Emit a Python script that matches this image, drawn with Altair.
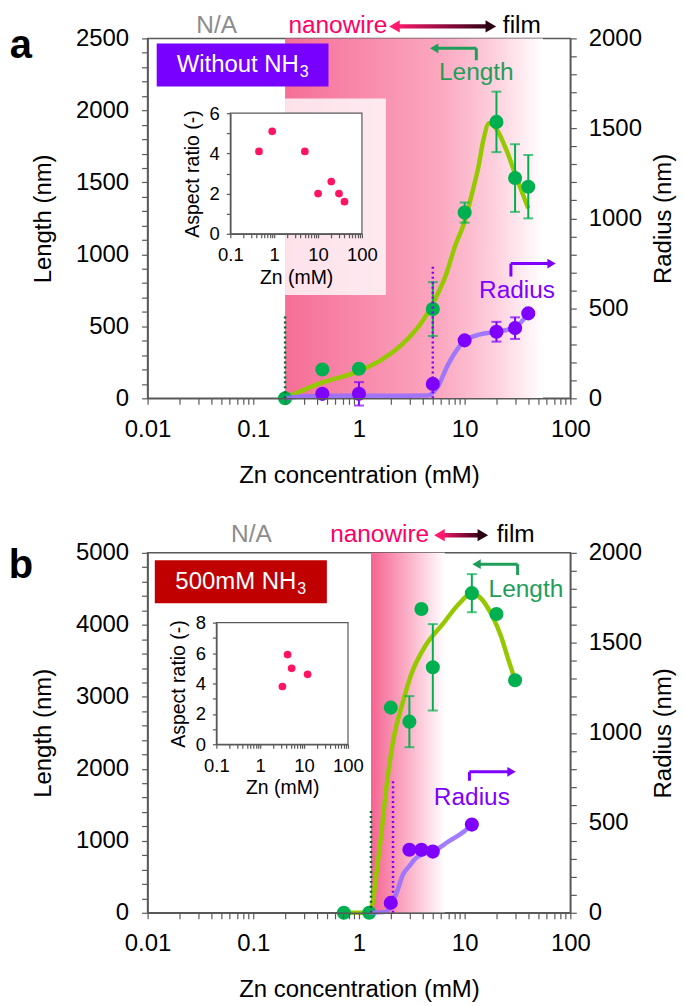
import altair as alt
import pandas as pd

FONT = "Liberation Sans"

# ---------------- panel a : without NH3 ----------------
a_len_x = [0.2, 0.45, 1, 5, 10, 20, 30, 40]
a_len_y = [0, 200, 205, 620, 1290, 1920, 1530, 1470]
a_len_err = [0, 0, 0, 187, 70, 210, 235, 220]
a_rad_x = [0.45, 1, 5, 10, 20, 30, 40]
a_rad_y = [25, 25, 80, 322, 370, 390, 472]
a_rad_err = [0, 65, 0, 0, 55, 60, 0]
a_fit_len_x = [0.2, 0.45, 0.93, 1.67, 2.77, 4, 5.24, 6.67, 8, 10, 12, 13.6, 15, 17, 20, 25, 30, 40]
a_fit_len_y = [0, 110, 180, 272, 399, 537, 687, 860, 1044, 1230, 1450, 1620, 1790, 1910, 1870, 1720, 1560, 1320]
a_fit_rad_x = [0.2, 0.3, 0.5, 1, 2, 4.5, 5.5, 7, 10, 14, 20, 30, 40]
a_fit_rad_y = [0, 12, 14, 14, 14, 16, 60, 190, 320, 355, 370, 395, 470]
a_ar_x = [0.45, 0.9, 5, 10, 20, 30, 40]
a_ar_y = [4.1, 5.1, 4.1, 2.0, 2.6, 2.0, 1.6]
a_onset_x = [0.2, 5]
a_onset_top = [457, 734]

# ---------------- panel b : 500 mM NH3 ----------------
b_len_x = [0.72, 1.25, 2, 3, 3.9, 5, 11.7, 20, 30]
b_len_y = [0, 0, 2850, 2655, 4220, 3410, 4440, 4150, 3230]
b_len_err = [0, 0, 0, 355, 0, 600, 265, 0, 0]
b_rad_x = [2, 3, 3.9, 5, 11.7]
b_rad_y = [55, 350, 350, 340, 490]
b_rad_err = [0, 0, 0, 0, 0]
b_fit_len_x = [0.72, 1.25, 1.35, 1.45, 1.6, 1.81, 2.09, 2.63, 3.1, 4.3, 6.2, 8.8, 11.7, 14, 18, 22, 26, 30]
b_fit_len_y = [0, 0, 150, 500, 1000, 1720, 2364, 2950, 3300, 3720, 4010, 4290, 4440, 4380, 4140, 3850, 3510, 3230]
b_fit_rad_x = [1.25, 1.8, 2, 2.3, 2.6, 3, 3.4, 4, 5, 7, 10, 11.7]
b_fit_rad_y = [0, 5, 40, 120, 210, 260, 300, 325, 340, 395, 455, 490]
b_ar_x = [3.2, 4.2, 5.2, 12]
b_ar_y = [3.8, 5.9, 5.0, 4.6]
b_onset_x = [1.3, 2.1]
b_onset_top = [580, 743]

GREEN = "#00b050"
GREEN_TXT = "#1f9e5a"
FIT_GREEN = "#96c800"
PURPLE = "#7f00ff"
FIT_PURPLE = "#9670ff"
AR_PINK = "#ff1464"
AXC = "#595959"

cfg_a = dict(
    letter="a", letter_y=20, len_max=2500, major=500, minor=100, ar_max=6,
    grad=[0.2, 55, 0, 2500],
    grad_stops=[(0, "#f56e96"), (0.3, "#f88aac"), (0.59, "#fba6bf"), (0.71, "#fcbbce"), (0.83, "#fed4e0"), (1, "#ffffff")],
    inset_bg=[0.2, 1.8, 717, 2083],
    inset_px=[83, 215, 75, 196],
    box=[0.0122, 0.515, 2166, 2464], box_color="#7800ff", box_text="Without NH", box_tx=0.27, box_ty=2315,
    len_lab=(12.9, 2258), len_arr=(12.9, 2348, 2431, 4.77),
    rad_lab=(31.3, 742), rad_arr=(27.4, 846, 936, 71.8),
    top_y=2583, arr_half=15, na_x=0.045, nano_x=1.86, arr=(1.99, 19.3), film_x=23,
)
cfg_b = dict(
    letter="b", letter_y=25, len_max=5000, major=1000, minor=200, ar_max=8,
    grad=[1.3, 6.5, 0, 5000],
    grad_stops=[(0, "#f56491"), (0.5, "#fbb0c8"), (1, "#ffffff")],
    inset_bg=None,
    inset_px=[69, 201, 70, 192],
    box=[0.0117, 0.497, 4300, 4899], box_color="#c00000", box_text="500mM NH", box_tx=0.255, box_ty=4599,
    len_lab=(38.0, 4484), len_arr=(31.7, 4691, 4843, 12.0),
    rad_lab=(11.7, 1590), rad_arr=(11.1, 1834, 1958, 30),
    top_y=5245, arr_half=30, na_x=0.096, nano_x=4.62, arr=(5.3, 16.2), film_x=20.1,
)

W, H = 424, 361
LAB = 24      # main tick labels
TIT = 24      # main axis titles
ANN = 24.5    # annotation text


def grad(stops):
    return alt.LinearGradient(
        gradient="linear",
        stops=[alt.GradientStop(offset=o, color=c) for o, c in stops],
        x1=0, x2=1, y1=0, y2=0,
    )


def panel(len_x, len_y, len_err, rad_x, rad_y, rad_err, fl_x, fl_y, fr_x, fr_y,
          ar_x, ar_y, onset_x, onset_top, c):
    XS = alt.Scale(type="log", domain=[0.01, 100], nice=False)
    LS = alt.Scale(domain=[0, c["len_max"]], nice=False, zero=False)
    RS = alt.Scale(domain=[0, 2000], nice=False, zero=False)
    xt = [m * 10.0 ** k for k in range(-2, 2) for m in range(1, 10)] + [100.0]
    dec_expr = ("abs(log(datum.value)/LN10 - round(log(datum.value)/LN10)) < 0.01 ? "
                "format(datum.value, '~g') : ''")
    x_axis = alt.Axis(values=xt, labelExpr=dec_expr, title="Zn concentration (mM)",
                      tickSize=6, labelPadding=13, titlePadding=22, grid=False,
                      zindex=1, labelOverlap=False, labelFlush=False,
                      labelFontSize=LAB, titleFontSize=TIT)
    y_axis = alt.Axis(values=list(range(0, c["len_max"] + 1, c["minor"])),
                      labelExpr="datum.value %% %d == 0 ? format(datum.value, 'd') : ''" % c["major"],
                      title="Length (nm)", tickSize=6, labelPadding=13, titlePadding=20,
                      grid=False, zindex=1, labelOverlap=False,
                      labelFontSize=LAB, titleFontSize=TIT)
    r_axis = alt.Axis(orient="right", values=list(range(0, 2001, 100)),
                      labelExpr="datum.value % 500 == 0 ? format(datum.value, 'd') : ''",
                      title="Radius (nm)", titleAngle=270, titleBaseline="top",
                      tickSize=6, labelPadding=12, titlePadding=10, grid=False,
                      zindex=1, labelOverlap=False,
                      labelFontSize=LAB, titleFontSize=TIT)

    def LX(f):
        return alt.X(f, type="quantitative", scale=XS, axis=x_axis)

    def LY(f):
        return alt.Y(f, type="quantitative", scale=LS, axis=y_axis)

    def RX(f):
        return alt.X(f, type="quantitative", scale=XS, axis=None)

    def RY(f):
        return alt.Y(f, type="quantitative", scale=RS, axis=r_axis)

    # ---------- length (left axis) group ----------
    g = c["grad"]
    L = []
    L.append(alt.Chart(pd.DataFrame({"x0": [g[0]], "x1": [g[1]], "y0": [g[2]], "y1": [g[3]]}))
             .mark_rect(color=grad(c["grad_stops"]))
             .encode(x=LX("x0"), x2="x1", y=LY("y0"), y2="y1"))
    if c["inset_bg"]:
        ib = c["inset_bg"]
        L.append(alt.Chart(pd.DataFrame({"x0": [ib[0]], "x1": [ib[1]], "y0": [ib[2]], "y1": [ib[3]]}))
                 .mark_rect(color="white", opacity=0.8)
                 .encode(x=LX("x0"), x2="x1", y=LY("y0"), y2="y1"))
    fit = pd.DataFrame({"x": fl_x, "y": fl_y})
    L.append(alt.Chart(fit).mark_line(color=FIT_GREEN, strokeWidth=4.5, interpolate="monotone")
             .encode(x=LX("x"), y=LY("y")))
    ld = pd.DataFrame({"x": len_x, "y": len_y, "e": len_err})
    ld["lo"] = ld["y"] - ld["e"]
    ld["hi"] = ld["y"] + ld["e"]
    le = ld[ld["e"] > 0]
    L.append(alt.Chart(le).mark_rule(color=GREEN, strokeWidth=2).encode(x=LX("x"), y=LY("lo"), y2="hi"))
    L.append(alt.Chart(le).mark_tick(color=GREEN, orient="horizontal", size=10, thickness=2)
             .encode(x=LX("x"), y=LY("lo")))
    L.append(alt.Chart(le).mark_tick(color=GREEN, orient="horizontal", size=10, thickness=2)
             .encode(x=LX("x"), y=LY("hi")))
    L.append(alt.Chart(ld).mark_circle(color=GREEN, size=200, opacity=1).encode(x=LX("x"), y=LY("y")))

    # condition box
    b = c["box"]
    L.append(alt.Chart(pd.DataFrame({"x0": [b[0]], "x1": [b[1]], "y0": [b[2]], "y1": [b[3]]}))
             .mark_rect(color=c["box_color"])
             .encode(x=LX("x0"), x2="x1", y=LY("y0"), y2="y1"))
    bt = pd.DataFrame({"x": [c["box_tx"]], "y": [c["box_ty"]], "t": [c["box_text"]], "s": ["3"]})
    L.append(alt.Chart(bt).mark_text(font=FONT, fontSize=24, color="white", align="right", baseline="middle")
             .encode(x=LX("x"), y=LY("y"), text="t:N"))
    L.append(alt.Chart(bt).mark_text(font=FONT, fontSize=16, color="white", align="left", baseline="middle", dx=1, dy=7)
             .encode(x=LX("x"), y=LY("y"), text="s:N"))

    # "Length" / "Radius" labels with bent arrows
    for lab, col, (tx, ty), (ax, ay0, ay1, tip), shape in [
        ("Length", GREEN_TXT, c["len_lab"], c["len_arr"], "triangle-left"),
        ("Radius", PURPLE, c["rad_lab"], c["rad_arr"], "triangle-right"),
    ]:
        L.append(alt.Chart(pd.DataFrame({"x": [tx], "y": [ty], "t": [lab]}))
                 .mark_text(font=FONT, fontSize=ANN, color=col, baseline="middle")
                 .encode(x=LX("x"), y=LY("y"), text="t:N"))
        L.append(alt.Chart(pd.DataFrame({"x": [ax], "y0": [ay0], "y1": [ay1]}))
                 .mark_rule(color=col, strokeWidth=3)
                 .encode(x=LX("x"), y=LY("y0"), y2="y1"))
        f = 1.08 if shape == "triangle-left" else 1 / 1.08
        L.append(alt.Chart(pd.DataFrame({"x0": [ax], "x1": [tip * f], "y": [ay1]}))
                 .mark_rule(color=col, strokeWidth=3)
                 .encode(x=LX("x0"), x2="x1", y=LY("y")))
        L.append(alt.Chart(pd.DataFrame({"x": [tip * f], "y": [ay1]}))
                 .mark_point(shape=shape, filled=True, size=95, color=col, opacity=1)
                 .encode(x=LX("x"), y=LY("y")))

    # header: N/A   nanowire <-> film
    ty = c["top_y"]
    L.append(alt.Chart(pd.DataFrame({"x": [c["na_x"]], "y": [ty], "t": ["N/A"]}))
             .mark_text(font=FONT, fontSize=ANN, color="#8c8c8c", baseline="middle")
             .encode(x=LX("x"), y=LY("y"), text="t:N"))
    L.append(alt.Chart(pd.DataFrame({"x": [c["nano_x"]], "y": [ty], "t": ["nanowire"]}))
             .mark_text(font=FONT, fontSize=ANN, color="#ff0066", align="right", baseline="middle")
             .encode(x=LX("x"), y=LY("y"), text="t:N"))
    L.append(alt.Chart(pd.DataFrame({"x": [c["film_x"]], "y": [ty], "t": ["film"]}))
             .mark_text(font=FONT, fontSize=ANN, color="black", align="left", baseline="middle")
             .encode(x=LX("x"), y=LY("y"), text="t:N"))
    a0, a1 = c["arr"]
    hf = 1.09
    L.append(alt.Chart(pd.DataFrame({"x0": [a0 * hf], "x1": [a1 / hf], "y0": [ty - c["arr_half"]], "y1": [ty + c["arr_half"]]}))
             .mark_rect(color=grad([(0, "#ff1a6e"), (1, "#2b0013")]))
             .encode(x=LX("x0"), x2="x1", y=LY("y0"), y2="y1"))
    L.append(alt.Chart(pd.DataFrame({"x": [a0 * hf], "y": [ty]}))
             .mark_point(shape="triangle-left", filled=True, size=150, color="#ff1a6e", opacity=1)
             .encode(x=LX("x"), y=LY("y")))
    L.append(alt.Chart(pd.DataFrame({"x": [a1 / hf], "y": [ty]}))
             .mark_point(shape="triangle-right", filled=True, size=150, color="#2b0013", opacity=1)
             .encode(x=LX("x"), y=LY("y")))

    # panel letter
    L.append(alt.Chart(pd.DataFrame({"t": [c["letter"]]}))
             .mark_text(font=FONT, fontSize=40, fontWeight="bold", color="black", align="center", baseline="alphabetic")
             .encode(text="t:N", x=alt.value(-127), y=alt.value(c["letter_y"])))

    length_group = alt.layer(*L)

    # ---------- radius (right axis) group ----------
    R = []
    R.append(alt.Chart(pd.DataFrame({"x": fr_x, "y": fr_y}))
             .mark_line(color=FIT_PURPLE, strokeWidth=4.5, opacity=0.9, interpolate="monotone")
             .encode(x=RX("x"), y=RY("y")))
    rd = pd.DataFrame({"x": rad_x, "y": rad_y, "e": rad_err})
    rd["lo"] = rd["y"] - rd["e"]
    rd["hi"] = rd["y"] + rd["e"]
    re_ = rd[rd["e"] > 0]
    if len(re_):
        R.append(alt.Chart(re_).mark_rule(color=PURPLE, strokeWidth=2).encode(x=RX("x"), y=RY("lo"), y2="hi"))
        R.append(alt.Chart(re_).mark_tick(color=PURPLE, orient="horizontal", size=10, thickness=2)
                 .encode(x=RX("x"), y=RY("lo")))
        R.append(alt.Chart(re_).mark_tick(color=PURPLE, orient="horizontal", size=10, thickness=2)
                 .encode(x=RX("x"), y=RY("hi")))
    R.append(alt.Chart(rd).mark_circle(color=PURPLE, size=200, opacity=1).encode(x=RX("x"), y=RY("y")))
    on = pd.DataFrame({"x": onset_x, "y0": [0, 0], "y1": onset_top, "k": ["len", "rad"]})
    R.append(alt.Chart(on).mark_rule(strokeDash=[2, 3], strokeWidth=2.5)
             .encode(x=RX("x"), y=RY("y0"), y2="y1",
                     color=alt.Color("k:N", scale=alt.Scale(domain=["len", "rad"], range=["#006633", "#8000ff"]), legend=None)))
    radius_group = alt.layer(*R)

    # ---------- inset : aspect ratio ----------
    ix0, ix1, iy0, iy1 = c["inset_px"]
    IXS = alt.Scale(type="log", domain=[0.1, 100], range=[ix0, ix1], nice=False)
    IYS = alt.Scale(domain=[0, c["ar_max"]], range=[iy1, iy0], nice=False, zero=False)
    ixt = [m * 10.0 ** k for k in range(-1, 2) for m in range(1, 10)] + [100.0]
    ix_axis = alt.Axis(orient="bottom", offset=-(H - iy1), values=ixt, labelExpr=dec_expr,
                       title="Zn (mM)", labelFontSize=18.5, titleFontSize=19.5, tickSize=4,
                       labelPadding=8, titlePadding=4, grid=False, zindex=1,
                       labelOverlap=False, labelFlush=False)
    iy_axis = alt.Axis(orient="left", offset=-ix0, values=list(range(0, c["ar_max"] + 1)),
                       labelExpr="datum.value % 2 == 0 ? format(datum.value, 'd') : ''",
                       title="Aspect ratio (-)", labelFontSize=18.5, titleFontSize=19.5, tickSize=4,
                       labelPadding=7, titlePadding=7, grid=False, zindex=1, labelOverlap=False)
    I = []
    I.append(alt.Chart(pd.DataFrame({"x0": [0.1], "x1": [100], "y0": [0], "y1": [c["ar_max"]]}))
             .mark_rect(fill="white", stroke=AXC, strokeWidth=1.2)
             .encode(x=alt.X("x0:Q", scale=IXS, axis=ix_axis), x2="x1",
                     y=alt.Y("y0:Q", scale=IYS, axis=iy_axis), y2="y1"))
    I.append(alt.Chart(pd.DataFrame({"x": ar_x, "y": ar_y}))
             .mark_circle(color=AR_PINK, size=60, opacity=1)
             .encode(x=alt.X("x:Q", scale=IXS, axis=ix_axis), y=alt.Y("y:Q", scale=IYS, axis=iy_axis)))
    inset_group = alt.layer(*I)

    return (alt.layer(length_group, radius_group, inset_group)
            .resolve_scale(x="independent", y="independent")
            .properties(width=W, height=H))


pa = panel(a_len_x, a_len_y, a_len_err, a_rad_x, a_rad_y, a_rad_err,
           a_fit_len_x, a_fit_len_y, a_fit_rad_x, a_fit_rad_y,
           a_ar_x, a_ar_y, a_onset_x, a_onset_top, cfg_a)
pb = panel(b_len_x, b_len_y, b_len_err, b_rad_x, b_rad_y, b_rad_err,
           b_fit_len_x, b_fit_len_y, b_fit_rad_x, b_fit_rad_y,
           b_ar_x, b_ar_y, b_onset_x, b_onset_top, cfg_b)

chart = (alt.vconcat(pa, pb, spacing=33)
         .properties(padding={"left": 0, "top": 3, "right": 0, "bottom": 0}, background="white")
         .configure_view(stroke=AXC, strokeWidth=1.5)
         .configure_axis(labelFont=FONT, titleFont=FONT,
                         titleFontWeight="normal", labelColor="black", titleColor="black",
                         domainColor=AXC, domainWidth=1.5, tickColor=AXC, tickWidth=1.2))

chart.save("out.html", embed_options={"renderer": "svg", "actions": False})
